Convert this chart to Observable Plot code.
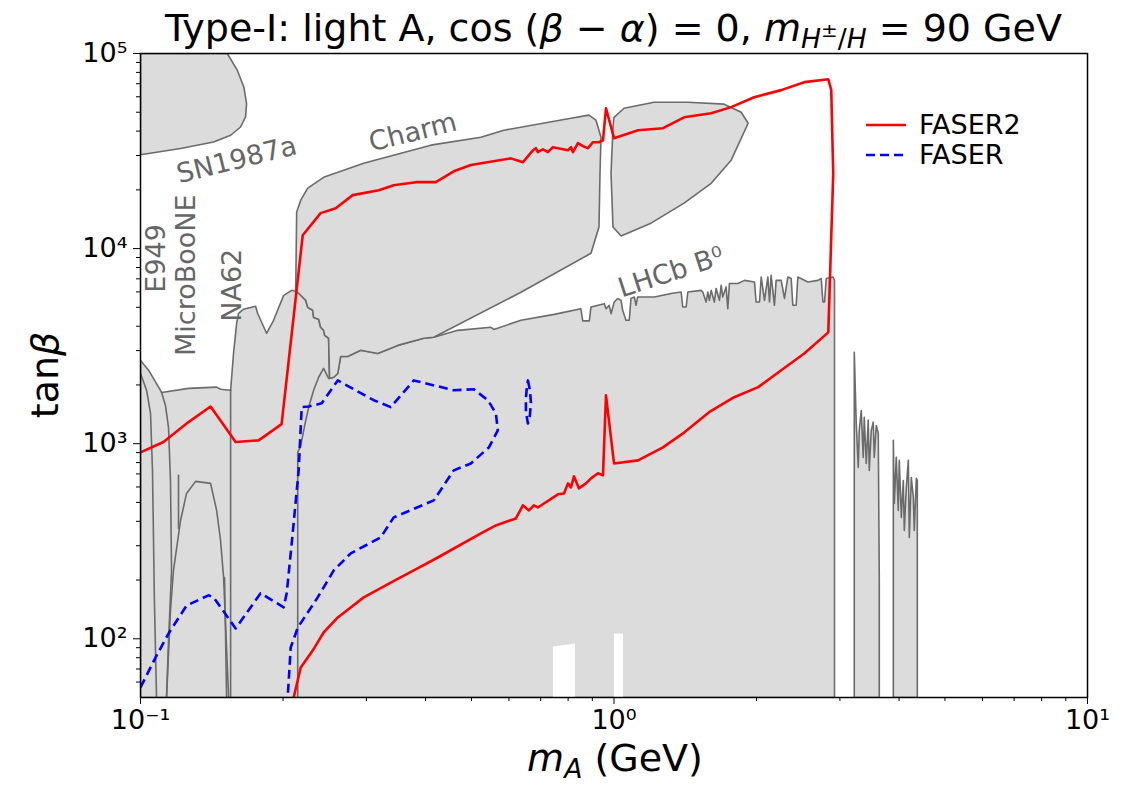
<!DOCTYPE html>
<html><head><meta charset="utf-8">
<script src="https://cdn.jsdelivr.net/npm/d3@7"></script>
<script src="https://cdn.jsdelivr.net/npm/@observablehq/plot@0.6"></script>
<style>
body{margin:0;background:#fff;font-family:"DejaVu Sans",sans-serif;}
#wrap{position:relative;width:1133px;height:785px;}
#wrap > svg{position:absolute;left:0;top:0;}
.t{position:absolute;white-space:nowrap;color:#000;line-height:1;}
.sb{font-size:0.7em;position:relative;top:0.25em;}
.sp{font-size:0.75em;position:relative;top:-0.55em;}
</style></head><body><div id="wrap"></div>
<script>
// ---- data (mA in GeV, tanβ) ----
const sn1987a = [[0.1,1e5],[0.1525,1e5],[0.1601,82100],[0.1653,67400],[0.1675,55400],[0.1667,47300],[0.1627,42000],[0.155,38100],[0.1427,35200],[0.1215,32600],[0.1,30300]];
const charmUpper = [[0.2137,15400],[0.218,17700],[0.2255,20400],[0.2436,23200],[0.2961,27400],[0.4103,33900],[0.5234,37200],[0.5852,40400],[0.8113,46600],[0.8855,48300],[0.9161,45500],[0.9387,37200],[0.9342,24300],[0.9296,12900],[0.8941,9460],[0.636,5970],[0.4163,3510]];
const charmRight = [[1.0,47100],[0.9951,41900],[0.9856,24300],[0.9951,12900],[1.035,11600],[1.197,13500],[1.406,17100],[1.604,21600],[1.768,28400],[1.92,43900],[1.856,50000],[1.708,55000],[1.434,56200],[1.215,56200],[1.05,52400]];
const e949Top = [[0.1,2670],[0.104,2380],[0.1092,1950],[0.1108,1830]];
const microTop = [[0.1108,1830],[0.1263,1920],[0.1448,1950],[0.1476,1900],[0.155,1880]];
const na62Top = [[0.155,1880],[0.1572,2900],[0.1596,4140],[0.1611,4660],[0.1651,4890],[0.175,5060],[0.1767,4660],[0.1846,3680],[0.191,4290],[0.2006,5760],[0.2086,6110],[0.2127,6040]];
const charmStair = [[0.2127,6040],[0.2158,5900],[0.219,5700],[0.2233,5430],[0.2255,5000],[0.231,4830],[0.2321,4440],[0.2378,4340],[0.2401,3950],[0.2436,3810],[0.2449,3590],[0.2496,3470],[0.2508,2160]];
const lhcbEdge = [[0.2508,2160],[0.2559,2190],[0.261,2290],[0.2647,2800],[0.2739,2800],[0.2918,3010],[0.317,2900],[0.3493,3190],[0.3965,3470],[0.4163,3510],[0.4678,3810],[0.5495,3950],[0.5575,3850],[0.636,4290],[0.748,4600],[0.851,4920],[0.859,4260],[0.887,4260],[0.894,5020],[0.954,5220],[0.962,4920],[0.977,5120],[0.986,4640],[1.001,5320],[1.018,5550],[1.035,5430],[1.043,4830],[1.06,4290],[1.077,4290],[1.086,5550],[1.104,5650],[1.113,5120],[1.122,5650],[1.217,5650],[1.32,5880],[1.386,5990],[1.397,5020],[1.42,5020],[1.432,5990],[1.527,6110],[1.54,5990],[1.565,5320],[1.578,5990],[1.59,5430],[1.604,6110],[1.629,5320],[1.643,6240],[1.67,5430],[1.684,6490],[1.697,5650],[1.725,6360],[1.739,4920],[1.753,6620],[1.826,6620],[1.886,6870],[1.98,6740],[1.996,5320],[2.029,5320],[2.046,7150],[2.079,5430],[2.113,7150],[2.13,5320],[2.147,7290],[2.182,5120],[2.2,6870],[2.255,6870],[2.291,5550],[2.329,7150],[2.367,7020],[2.386,5120],[2.425,5120],[2.445,7150],[2.568,6740],[2.696,6870],[2.739,7020],[2.762,5320],[2.784,5320],[2.807,7020],[2.901,7150],[2.922,6870]];
const e949Outer = [[0.1108,1830],[0.1129,1570],[0.1146,1210],[0.1157,648],[0.1163,224],[0.1146,98],[0.1135,50]];
const e949Inner = [[0.1,2290],[0.103,1880],[0.105,1430],[0.106,730],[0.107,157],[0.1081,50]];
const microLobe = [[0.1135,50],[0.1157,140],[0.1174,224],[0.1215,404],[0.1251,556],[0.1307,641],[0.1406,626],[0.1448,455],[0.1476,319],[0.1498,206],[0.1535,50]];
const microSpike = [[0.1203,688],[0.1203,368]];
const microInner = [[0.1505,206],[0.152,50]];
const na62Edge = [[0.155,1880],[0.155,50]];
const lowCurve = [[0.2148,50],[0.2148,902],[0.218,980],[0.2222,1240],[0.2266,1540],[0.2321,1880],[0.2378,2190],[0.2436,2430],[0.2496,2160]];
const heavy1 = [[3.217,50],[3.217,2940],[3.248,1270],[3.28,756],[3.296,1170],[3.328,1480],[3.36,851],[3.377,1365],[3.41,792],[3.443,1320],[3.46,730],[3.494,1170],[3.528,1290],[3.545,851],[3.58,1240],[3.615,1130],[3.633,199],[3.633,50]];
const heavy2 = [[3.89,50],[3.89,1040],[3.908,494],[3.946,851],[3.984,455],[4.004,821],[4.044,419],[4.083,648],[4.103,359],[4.143,597],[4.184,821],[4.204,331],[4.245,671],[4.287,531],[4.307,359],[4.35,664],[4.371,648],[4.371,50]];
const gap1 = [[0.743,50],[0.743,91.2],[0.827,94.6],[0.827,50]];
const gap2 = [[1.0,50],[1.0,106.4],[1.045,106.4],[1.045,50]];
const faser2 = [[0.2106,50],[0.218,71.3],[0.231,87],[0.2436,107.7],[0.261,128.6],[0.2961,163],[0.3377,194],[0.3777,224],[0.4245,261],[0.5234,347],[0.563,381],[0.6206,414],[0.6421,483],[0.6612,455],[0.6774,483],[0.6906,471],[0.7613,550],[0.7841,556],[0.7995,626],[0.8113,597],[0.8231,680],[0.8433,590],[0.8726,626],[0.8941,664],[0.9251,705],[0.9478,688],[0.9618,1770],[1.0,792],[1.124,821],[1.269,957],[1.406,1140],[1.588,1450],[1.794,1730],[2.016,1950],[2.255,2380],[2.522,2900],[2.835,3720],[2.904,24300],[2.876,64900],[2.835,73800],[2.522,71300],[2.255,64900],[1.977,59700],[1.768,53100],[1.604,49400],[1.406,47100],[1.269,41400],[1.124,40400],[1.0,36800],[0.9618,52400],[0.9478,35900],[0.9296,35100],[0.9029,35100],[0.8812,32700],[0.8599,33500],[0.8391,34700],[0.8192,31200],[0.8113,33100],[0.7995,31900],[0.743,33100],[0.7252,31200],[0.7077,32300],[0.6906,31200],[0.684,32700],[0.6741,31900],[0.6421,27700],[0.6056,29000],[0.4984,26800],[0.4587,24900],[0.4204,21900],[0.3814,21900],[0.3426,21100],[0.3186,19900],[0.2807,18800],[0.2584,16100],[0.2401,15200],[0.2201,11700],[0.1986,1260],[0.1776,1040],[0.1588,1020],[0.1406,1550],[0.1263,1290],[0.1118,1020],[0.1,902]];
const faser = [[0.1,56.3],[0.1076,80.2],[0.1146,106.4],[0.1251,148],[0.1392,167],[0.1427,163],[0.1588,113],[0.1793,171],[0.2006,145],[0.2036,171],[0.2086,308],[0.2158,730],[0.219,1540],[0.2266,1550],[0.2413,1610],[0.261,2110],[0.3109,1670],[0.3377,1540],[0.3777,2110],[0.4587,1880],[0.5058,1900],[0.5416,1670],[0.563,1430],[0.5684,1170],[0.5443,957],[0.4984,792],[0.4587,730],[0.4163,512],[0.3426,419],[0.3217,331],[0.278,274],[0.2559,224],[0.2367,163],[0.2148,114],[0.2076,90.2],[0.2046,50]];
const faserIsland = [[0.658,2110],[0.6644,1880],[0.6676,1630],[0.6644,1400],[0.658,1270],[0.6516,1450],[0.6516,1710],[0.6548,1970]];
const labelText = ["Charm","SN1987a","E949","MicroBooNE","NA62","LHCb B\u2070"];
const labelMA = [0.376,0.1596,0.108,0.125,0.1564,1.32];
const labelTanb = [39400,28400,8910,7300,6490,7550];
const labelAngle = [-14,-14,-90,-90,-90,-18];
const xMajor = [0.1,1,10];
const xTickLabels = ["10\u207B\u00B9","10\u2070","10\u00B9"];
const xMinor = [0.2,0.3,0.4,0.5,0.6,0.7,0.8,0.9,2,3,4,5,6,7,8,9];
const yMajor = [100,1000,10000,100000];
const yTickLabels = ["10\u00B2","10\u00B3","10\u2074","10\u2075"];
const yMinor = [60,70,80,90,200,300,400,500,600,700,800,900,2000,3000,4000,5000,6000,7000,8000,9000,20000,30000,40000,50000,60000,70000,80000,90000];

// ---- derived polygons ----
const mainRegion = [[0.1,50], ...e949Top, ...microTop.slice(1), ...na62Top.slice(1), ...charmStair.slice(1), ...lhcbEdge.slice(1), [2.922,50]];
const charmLeft = [...charmUpper, ...lhcbEdge.slice(0,9).reverse(), ...charmStair.slice(0,-1).reverse()];
const labels = labelText.map((t,i)=>({t, x: labelMA[i], y: labelTanb[i], a: labelAngle[i]}));

const X = d => d[0], Y = d => d[1];
const FILL = "#dcdcdc", EDGE = "#6b6b6b";
const poly = (data) => Plot.line(data, {x: X, y: Y, curve: "linear-closed", fill: FILL, stroke: EDGE, strokeWidth: 1.6, clip: true});
const edge = (data) => Plot.line(data, {x: X, y: Y, stroke: EDGE, strokeWidth: 1.6, clip: true});
const hole = (data) => Plot.line(data, {x: X, y: Y, curve: "linear-closed", fill: "white", stroke: "none", clip: true});

const chart = Plot.plot({
  width: 1133, height: 785,
  marginLeft: 140, marginRight: 46, marginTop: 53, marginBottom: 88,
  style: {fontFamily: "DejaVu Sans", fontSize: "27px", color: "black", background: "white", overflow: "visible"},
  x: {type: "log", domain: [0.1, 10]},
  y: {type: "log", domain: [50, 1e5]},
  marks: [
    poly(sn1987a),
    poly(mainRegion),
    poly(charmLeft),
    poly(charmRight),
    poly(heavy1),
    poly(heavy2),
    edge(e949Outer), edge(e949Inner), edge(microLobe), edge(microSpike), edge(microInner), edge(na62Edge), edge(lowCurve),
    hole(gap1), hole(gap2),
    Plot.text(labels, {x: "x", y: "y", text: "t", rotate: "a", fill: "#666", fontSize: 27, fontFamily: "DejaVu Sans"}),
    Plot.line(faser2, {x: X, y: Y, stroke: "#ff0000", strokeWidth: 2.6, clip: true}),
    Plot.line(faser, {x: X, y: Y, stroke: "#0000ff", strokeWidth: 2.6, strokeDasharray: "9,5", strokeLinecap: "butt", clip: true}),
    Plot.line(faserIsland, {x: X, y: Y, curve: "linear-closed", stroke: "#0000ff", strokeWidth: 2.6, strokeDasharray: "9,5", strokeLinecap: "butt", clip: true}),
    Plot.frame({stroke: "black", strokeWidth: 1.5}),
    Plot.axisX({ticks: xMajor, tickFormat: d => xTickLabels[xMajor.indexOf(d)], tickSize: 7, tickPadding: 5, fontSize: 27, label: null}),
    Plot.axisX({ticks: xMinor, tickFormat: () => "", tickSize: 4, label: null}),
    Plot.axisY({ticks: yMajor, tickFormat: d => yTickLabels[yMajor.indexOf(d)], tickSize: 7, tickPadding: 6, fontSize: 27, label: null}),
    Plot.axisY({ticks: yMinor, tickFormat: () => "", tickSize: 4, label: null})
  ]
});
const wrap = document.getElementById("wrap");
wrap.appendChild(chart);

function addDiv(html, style){ const d = document.createElement("div"); d.className = "t"; d.innerHTML = html; Object.assign(d.style, style); wrap.appendChild(d); return d; }
addDiv('Type-I: light A, cos (<i>β</i> − <i>α</i>) = 0, <i>m</i><span class="sb"><i>H</i><span class="sp">±</span>/<i>H</i></span> = 90 GeV',
  {left: "140px", width: "947px", textAlign: "center", top: "9px", fontSize: "38px"});
addDiv('<i>m</i><span class="sb"><i>A</i></span> (GeV)', {left: "490px", width: "250px", textAlign: "center", top: "739px", fontSize: "38px"});
addDiv('tan<i>β</i>', {left: "45px", top: "375px", fontSize: "38px", transform: "translate(-50%,-50%) rotate(-90deg)"});
// legend
const leg = document.createElementNS("http://www.w3.org/2000/svg","svg");
leg.setAttribute("width","60"); leg.setAttribute("height","60");
leg.style.cssText = "position:absolute;left:860px;top:110px;";
leg.innerHTML = '<line x1="6" x2="46" y1="15" y2="15" stroke="#ff0000" stroke-width="2.6"/><line x1="6" x2="46" y1="45" y2="45" stroke="#0000ff" stroke-width="2.6" stroke-dasharray="9,5"/>';
wrap.appendChild(leg);
addDiv('FASER2', {left: "919px", top: "111px", fontSize: "27px"});
addDiv('FASER', {left: "919px", top: "141px", fontSize: "27px"});
</script></body></html>
